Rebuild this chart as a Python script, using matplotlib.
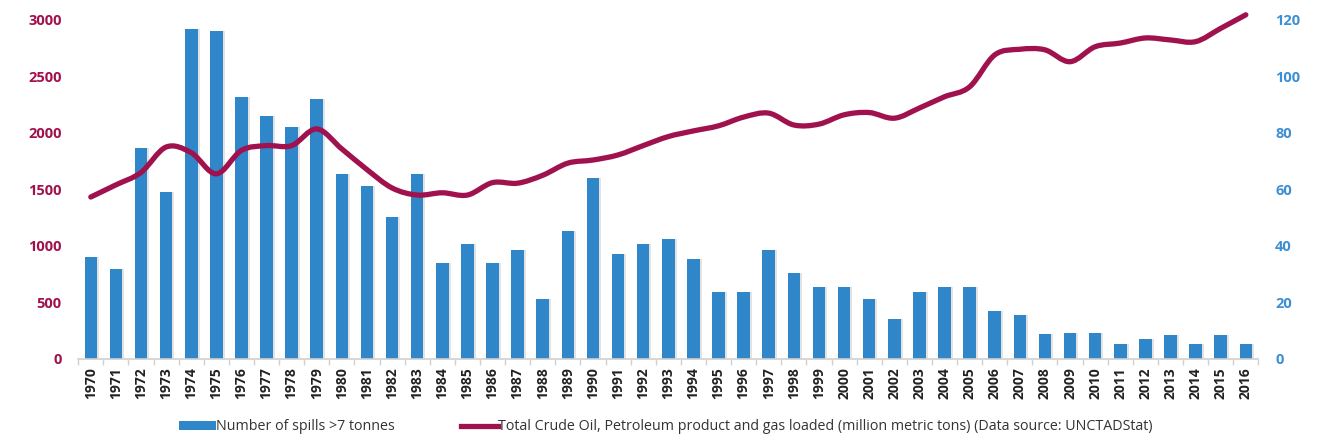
import matplotlib.pyplot as plt
import numpy as np
from matplotlib.patches import Patch, PathPatch
from matplotlib.path import Path
from matplotlib.lines import Line2D

years = list(range(1970, 2017))
spills = [900, 800, 1870, 1480, 2920, 2900, 2320, 2150, 2050, 2300,
          1640, 1530, 1260, 1640, 850, 1020, 850, 965, 530, 1130,
          1600, 930, 1020, 1060, 880, 590, 590, 965, 760, 640,
          640, 530, 350, 590, 640, 640, 420, 390, 220, 230,
          230, 130, 180, 210, 130, 210, 130]
loaded = [57.3, 61.6, 66.0, 75.0, 73.0, 65.5, 73.8, 75.5, 75.5, 81.4,
          74.3, 67.0, 60.5, 58.0, 58.8, 58.0, 62.4, 62.2, 65.0, 69.3,
          70.4, 72.2, 75.5, 78.7, 80.7, 82.5, 85.6, 87.0, 82.8, 83.1,
          86.4, 87.2, 85.2, 88.8, 92.8, 96.3, 107.6, 109.6, 109.4, 105.2,
          110.5, 111.8, 113.6, 112.9, 112.3, 117.0, 121.8]

bar_color = '#2F87CA'
line_color = '#A0124E'
right_color = '#3C8FD2'

plt.rcParams['font.family'] = ['Open Sans', 'DejaVu Sans']

fig = plt.figure(figsize=(13.26, 4.42), dpi=100)
ax1 = fig.add_axes([0.059, 0.188, 0.890, 0.767])
ax2 = ax1.twinx()

x = np.arange(len(years))
# soft shadow behind bars
ax1.bar(x + 0.08, spills, width=0.5, color='#c8c8c8', alpha=0.5, zorder=1)
ax1.bar(x, spills, width=0.5, color=bar_color, zorder=2)

# smoothed line like Excel (bezier segments through the data points)
pts = np.column_stack([x, loaded]).astype(float)
verts = [pts[0]]
codes = [Path.MOVETO]
n = len(pts)
for i in range(n - 1):
    p0 = pts[i - 1] if i > 0 else pts[i]
    p1 = pts[i]
    p2 = pts[i + 1]
    p3 = pts[i + 2] if i + 2 < n else pts[i + 1]
    verts += [p1 + (p2 - p0) / 6, p2 - (p3 - p1) / 6, p2]
    codes += [Path.CURVE4] * 3
ax2.add_patch(PathPatch(Path(verts, codes), facecolor='none', edgecolor=line_color,
                        linewidth=3.8, joinstyle='round', capstyle='round',
                        clip_on=False, zorder=3))

ax1.set_xlim(-0.5, len(years) - 0.5)
ax1.set_ylim(0, 3000)
ax2.set_ylim(0, 120)
ax1.set_yticks(range(0, 3001, 500))
ax2.set_yticks(range(0, 121, 20))

ax1.set_xticks(x)
ax1.set_xticklabels([str(y) for y in years], rotation=90, fontsize=10,
                    fontweight='bold', color='#222222')
ax1.set_xticks(np.arange(-0.5, len(years), 1), minor=True)
ax1.tick_params(axis='x', which='major', length=0, pad=6)
ax1.tick_params(axis='x', which='minor', length=4, color='#d0d0d0', width=1)

ax1.tick_params(axis='y', length=0, labelcolor=line_color, labelsize=10.5, pad=12)
ax2.tick_params(axis='y', length=0, labelcolor=right_color, labelsize=10.5, pad=12)
for lab in ax1.get_yticklabels() + ax2.get_yticklabels():
    lab.set_fontweight('bold')

for a in (ax1, ax2):
    for s in ('top', 'left', 'right'):
        a.spines[s].set_visible(False)
ax2.spines['bottom'].set_visible(False)
ax1.spines['bottom'].set_color('#d0d0d0')
ax1.spines['bottom'].set_linewidth(1.2)

handles = [Patch(facecolor=bar_color, edgecolor='none'),
           Line2D([0], [0], color=line_color, linewidth=3.8)]
labels = ['Number of spills >7 tonnes',
          'Total Crude Oil, Petroleum product and gas loaded (million metric tons) (Data source: UNCTADStat)']
fig.legend(handles, labels, loc='lower center', bbox_to_anchor=(0.502, -0.012),
           ncol=2, frameon=False, fontsize=10.3, handlelength=2.6, handletextpad=0.0,
           columnspacing=4.6, handleheight=0.6, labelcolor='#333333')

fig.savefig('out.png', dpi=100)
